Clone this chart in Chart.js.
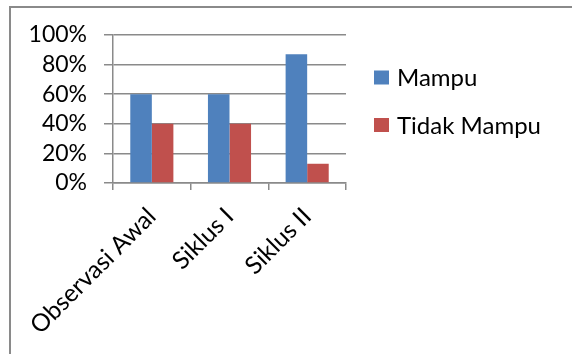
<!DOCTYPE html>
<html>
<head>
<meta charset="utf-8">
<script src="https://cdn.jsdelivr.net/npm/chart.js@4/dist/chart.umd.min.js"></script>
<style>
  html, body { margin: 0; padding: 0; background: #fff; }
  #wrap { position: relative; width: 572px; height: 354px; overflow: hidden; }
  #frame { position: absolute; left: 9px; top: 6px; right: -4px; bottom: -4px;
           border-left: 2px solid #8a8a8a; border-top: 2px solid #8a8a8a; }
  #c { position: absolute; left: 0; top: 0; }
</style>
</head>
<body>
<div id="wrap">
  <div id="frame"></div>
  <canvas id="c" width="572" height="354"></canvas>
</div>
<script>
const categories = ['Observasi Awal', 'Siklus I', 'Siklus II'];
const mampu = [60, 60, 87];
const tidakMampu = [40, 40, 13];
const seriesNames = ['Mampu', 'Tidak Mampu'];
const seriesColors = ['#4F81BD', '#C0504D'];
const yTicks = [0, 20, 40, 60, 80, 100];

const FONT = 'Lato, "Open Sans", sans-serif';
const axisGray = '#8a8a8a';

// Legend drawn at the right of the plot: colour square + series name
const sideLegend = {
  id: 'sideLegend',
  afterDraw(chart) {
    const ctx = chart.ctx;
    ctx.save();
    ctx.font = '24px ' + FONT;
    ctx.textBaseline = 'middle';
    ctx.textAlign = 'left';
    chart.data.datasets.forEach((ds, i) => {
      const cy = 77.5 + i * 47.5;
      ctx.fillStyle = ds.backgroundColor;
      ctx.fillRect(374, cy - 7, 15, 14);
      ctx.fillStyle = '#000';
      ctx.fillText(ds.label, 397, cy + 1);
    });
    ctx.restore();
  }
};

new Chart(document.getElementById('c'), {
  type: 'bar',
  data: {
    labels: categories,
    datasets: [
      { label: seriesNames[0], data: mampu, backgroundColor: seriesColors[0] },
      { label: seriesNames[1], data: tidakMampu, backgroundColor: seriesColors[1] }
    ]
  },
  options: {
    responsive: false,
    animation: false,
    layout: { padding: { left: 0, top: 35, right: 226, bottom: 0 } },
    datasets: { bar: { categoryPercentage: 0.555, barPercentage: 1.0 } },
    plugins: { legend: { display: false }, tooltip: { enabled: false } },
    scales: {
      x: {
        grid: { display: true, drawOnChartArea: false, offset: true, color: axisGray, lineWidth: 1.5, tickLength: 7 },
        border: { display: true, color: axisGray, width: 1.5 },
        ticks: { color: '#000', font: { family: FONT, size: 24.5 }, minRotation: 45, maxRotation: 45, padding: 12, autoSkip: false },
        afterFit(scale) { scale.height = 171; }
      },
      y: {
        min: 0, max: 100,
        afterBuildTicks(scale) { scale.ticks = yTicks.map(v => ({ value: v })); },
        grid: { color: axisGray, lineWidth: 1.5, tickLength: 9 },
        border: { display: true, color: axisGray, width: 1.5 },
        ticks: { color: '#000', font: { family: FONT, size: 23 }, padding: 17, autoSkip: false, callback: v => v + '%' },
        afterFit(scale) { scale.width = 113; }
      }
    }
  },
  plugins: [sideLegend]
});
</script>
</body>
</html>
